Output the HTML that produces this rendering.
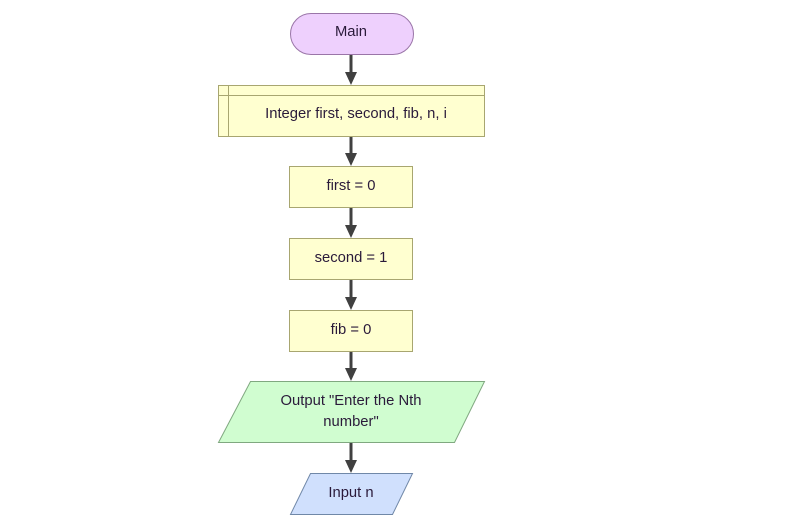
<!DOCTYPE html>
<html><head><style>body{margin:0;background:#fff}</style></head><body>
<svg width="795" height="515" xmlns="http://www.w3.org/2000/svg" font-family="Liberation Sans, Arial, sans-serif" font-size="14.8" fill="#333">
<g stroke="#404040" stroke-width="3">
<line x1="351" y1="54" x2="351" y2="76"/>
<line x1="351" y1="136" x2="351" y2="157"/>
<line x1="351" y1="207" x2="351" y2="229"/>
<line x1="351" y1="279" x2="351" y2="301"/>
<line x1="351" y1="351" x2="351" y2="372"/>
<line x1="351" y1="442" x2="351" y2="464"/>
</g>
<g fill="#404040">
<path d="M345,72 L357,72 L351,85 z"/>
<path d="M345,153 L357,153 L351,166 z"/>
<path d="M345,225 L357,225 L351,238 z"/>
<path d="M345,297 L357,297 L351,310 z"/>
<path d="M345,368 L357,368 L351,381 z"/>
<path d="M345,460 L357,460 L351,473 z"/>
</g>
<rect x="290.5" y="13.5" width="123" height="41" rx="20.5" fill="#eed0fd" stroke="#9a75a8"/>
<rect x="218.5" y="85.5" width="266" height="51" fill="#ffffd0" stroke="#a8a670"/>
<line x1="218.5" y1="95.5" x2="484.5" y2="95.5" stroke="#a8a670"/>
<line x1="228.5" y1="85.5" x2="228.5" y2="136.5" stroke="#a8a670"/>
<rect x="289.5" y="166.5" width="123" height="41" fill="#ffffd0" stroke="#a8a670"/>
<rect x="289.5" y="238.5" width="123" height="41" fill="#ffffd0" stroke="#a8a670"/>
<rect x="289.5" y="310.5" width="123" height="41" fill="#ffffd0" stroke="#a8a670"/>
<path d="M250.5,381.5 L484.5,381.5 L454.5,442.5 L218.5,442.5 z" fill="#d0fdd0" stroke="#80a880"/>
<path d="M310.5,473.5 L412.5,473.5 L392.5,514.5 L290.5,514.5 z" fill="#d0e0fd" stroke="#7088a8"/>
<g text-anchor="middle" fill="#2a1a3a">
<text x="351" y="36">Main</text>
<text x="356" y="118">Integer first, second, fib, n, i</text>
<text x="351" y="190">first = 0</text>
<text x="351" y="262">second = 1</text>
<text x="351" y="334">fib = 0</text>
<text x="351" y="405">Output "Enter the Nth</text>
<text x="351" y="426">number"</text>
<text x="351" y="497">Input n</text>
</g>
</svg>
</body></html>
